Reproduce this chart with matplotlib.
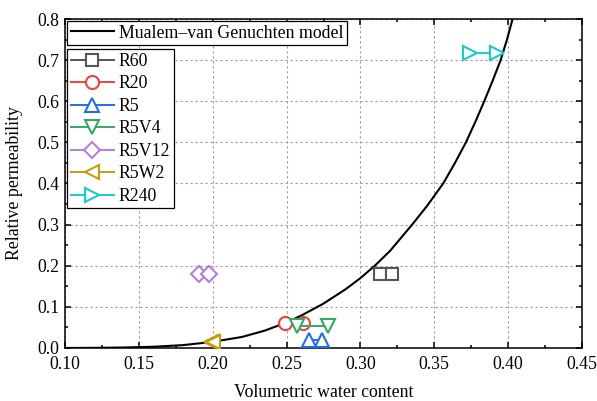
import numpy as np
import matplotlib
matplotlib.use("Agg")
import matplotlib.pyplot as plt

plt.rcParams['font.family'] = ['Liberation Serif', 'DejaVu Serif']

# Mualem-van Genuchten model curve
model_theta = [0.10, 0.12, 0.14, 0.16, 0.18, 0.20, 0.22, 0.235, 0.25, 0.26,
               0.275, 0.29, 0.30, 0.31, 0.32, 0.335, 0.345, 0.356, 0.364,
               0.3714, 0.3778, 0.3838, 0.3895, 0.3949, 0.3992, 0.403, 0.4045]
model_kr = [0.0, 0.0003, 0.0012, 0.003, 0.007, 0.015, 0.027, 0.042, 0.062, 0.079,
            0.108, 0.143, 0.170, 0.201, 0.236, 0.30, 0.345, 0.40, 0.45,
            0.50, 0.55, 0.60, 0.65, 0.70, 0.75, 0.80, 0.82]

# measured points (two per sample)
labels = ["R60", "R20", "R5", "R5V4", "R5V12", "R5W2", "R240"]
theta = [[0.3135, 0.3213],
         [0.2486, 0.2608],
         [0.2653, 0.2738],
         [0.2568, 0.2778],
         [0.1909, 0.1977],
         [0.1985, 0.2005],
         [0.3740, 0.3926]]
kr = [[0.18, 0.18],
      [0.060, 0.060],
      [0.019, 0.019],
      [0.054, 0.054],
      [0.18, 0.18],
      [0.0155, 0.0155],
      [0.718, 0.718]]

colors = ["#555555", "#f2423f", "#1f6fe0", "#35a865", "#b27fe6", "#cc990c", "#19cccc"]
markers = ["s", "o", "^", "v", "D", "<", ">"]
msizes = [8.6, 9.4, 10.5, 10.5, 7.8, 10.5, 10.5]

fig = plt.figure(figsize=(5.97, 4.01), dpi=100)
ax = fig.add_axes([0.1089, 0.1322, 0.8660, 0.8204])

curve, = ax.plot(model_theta, model_kr, color='black', lw=1.5, zorder=3,
                 label="Mualem\u2013van Genuchten model")

handles = []
for i in range(len(labels)):
    h, = ax.plot(theta[i], kr[i], color=colors[i], marker=markers[i], ms=msizes[i],
                 mfc='white', mec=colors[i], mew=1.5, lw=1.4, zorder=4, label=labels[i])
    handles.append(h)

ax.set_xlim(0.10, 0.45)
ax.set_ylim(0.0, 0.8)
ax.set_xticks(np.arange(0.10, 0.451, 0.05))
ax.set_yticks(np.arange(0.0, 0.81, 0.1))
ax.set_xticks(np.arange(0.125, 0.45, 0.05), minor=True)
ax.set_yticks(np.arange(0.05, 0.8, 0.1), minor=True)
ax.xaxis.set_major_formatter(matplotlib.ticker.FormatStrFormatter('%.2f'))
ax.yaxis.set_major_formatter(matplotlib.ticker.FormatStrFormatter('%.1f'))

ax.tick_params(which='both', direction='in', top=True, right=True, labelsize=12.8,
               width=1.1)
ax.tick_params(axis='x', pad=5.5)
ax.tick_params(axis='y', pad=4)
ax.tick_params(which='major', length=4.5)
ax.tick_params(which='minor', length=2.5)
for s in ax.spines.values():
    s.set_linewidth(1.1)

ax.grid(True, which='major', color='#9a9a9a', linestyle=(0, (2, 2.5)), lw=0.8)
ax.set_axisbelow(True)

ax.set_xlabel("Volumetric water content", fontsize=12.8, labelpad=8)
ax.set_ylabel("Relative permeability", fontsize=12.8, labelpad=10)

leg1 = ax.legend(handles=[curve], loc='upper left', bbox_to_anchor=(0.0045, 0.994),
                 borderaxespad=0, fontsize=12.8, frameon=True, fancybox=False,
                 edgecolor='black', framealpha=1, handlelength=2.4,
                 handletextpad=0.3, borderpad=0.2)
leg1.get_frame().set_linewidth(0.9)
ax.add_artist(leg1)

leg2 = ax.legend(handles=handles, loc='upper left', bbox_to_anchor=(0.0045, 0.908),
                 borderaxespad=0, fontsize=12.8, frameon=True, fancybox=False,
                 edgecolor='black', framealpha=1, handlelength=2.4, numpoints=1,
                 handletextpad=0.3, borderpad=0.2, labelspacing=0.31)
leg2.get_frame().set_linewidth(0.9)

fig.savefig("out.png", dpi=100)
